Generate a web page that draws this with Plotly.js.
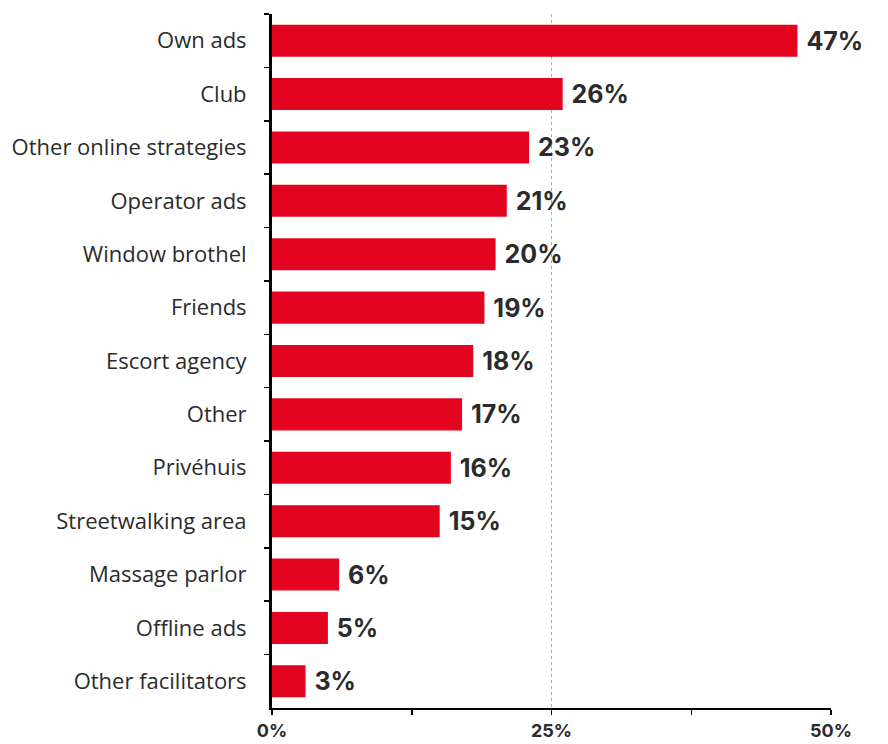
<!DOCTYPE html>
<html>
<head>
<meta charset="utf-8">
<script src="https://cdn.plot.ly/plotly-3.0.1.min.js"></script>
<style>html,body{margin:0;padding:0;background:#fff;}#chart{width:888px;height:744px;}</style>
</head>
<body>
<div id="chart"></div>
<script>
var categories = ["Own ads", "Club", "Other online strategies", "Operator ads", "Window brothel", "Friends", "Escort agency", "Other", "Privéhuis", "Streetwalking area", "Massage parlor", "Offline ads", "Other facilitators"];
var shares = [47, 26, 23, 21, 20, 19, 18, 17, 16, 15, 6, 5, 3];
var tickValues = [0, 25, 50];
var tickLabels = ["0%", "25%", "50%"];

var labels = shares.map(function(v){ return v + "%"; });

var trace = {
  type: "bar",
  orientation: "h",
  y: categories,
  x: shares,
  text: labels,
  texttemplate: " %{text}",
  textposition: "outside",
  cliponaxis: false,
  textfont: {family: "Inter, 'Open Sans', sans-serif", size: 25, color: "#2b2b2b", weight: 700},
  marker: {color: "#e30520", line: {width: 0}},
  hoverinfo: "skip"
};

var layout = {
  width: 888,
  height: 744,
  margin: {l: 272, r: 57, t: 14, b: 36},
  paper_bgcolor: "#fff",
  plot_bgcolor: "#fff",
  bargap: 0.4,
  showlegend: false,
  font: {family: "'Open Sans', sans-serif", color: "#2b2b2b"},
  xaxis: {
    range: [0, 50],
    tickvals: tickValues,
    ticktext: tickLabels,
    ticks: "outside",
    ticklen: 5,
    tickwidth: 1.5,
    tickcolor: "#000",
    showline: true,
    linecolor: "#000",
    linewidth: 2,
    showgrid: true,
    gridcolor: "#aaaaaa",
    griddash: "dot",
    gridwidth: 1,
    zeroline: false,
    minor: {dtick: 12.5, tick0: 0, ticks: "outside", ticklen: 5, tickwidth: 1.5, tickcolor: "#000", showgrid: false},
    tickfont: {family: "Inter, 'Open Sans', sans-serif", size: 18, color: "#2b2b2b", weight: 700},
    ticklabelstandoff: 0,
    fixedrange: true
  },
  yaxis: {
    autorange: "reversed",
    type: "category",
    ticks: "outside",
    tickson: "boundaries",
    ticklen: 5,
    tickwidth: 1.5,
    tickcolor: "#000",
    showline: true,
    linecolor: "#000",
    linewidth: 3,
    showgrid: false,
    zeroline: false,
    tickfont: {family: "'Open Sans', sans-serif", size: 22, color: "#2b2b2b"},
    ticklabelstandoff: 18,
    fixedrange: true
  }
};

Plotly.newPlot("chart", [trace], layout, {displayModeBar: false, staticPlot: true});
</script>
</body>
</html>
